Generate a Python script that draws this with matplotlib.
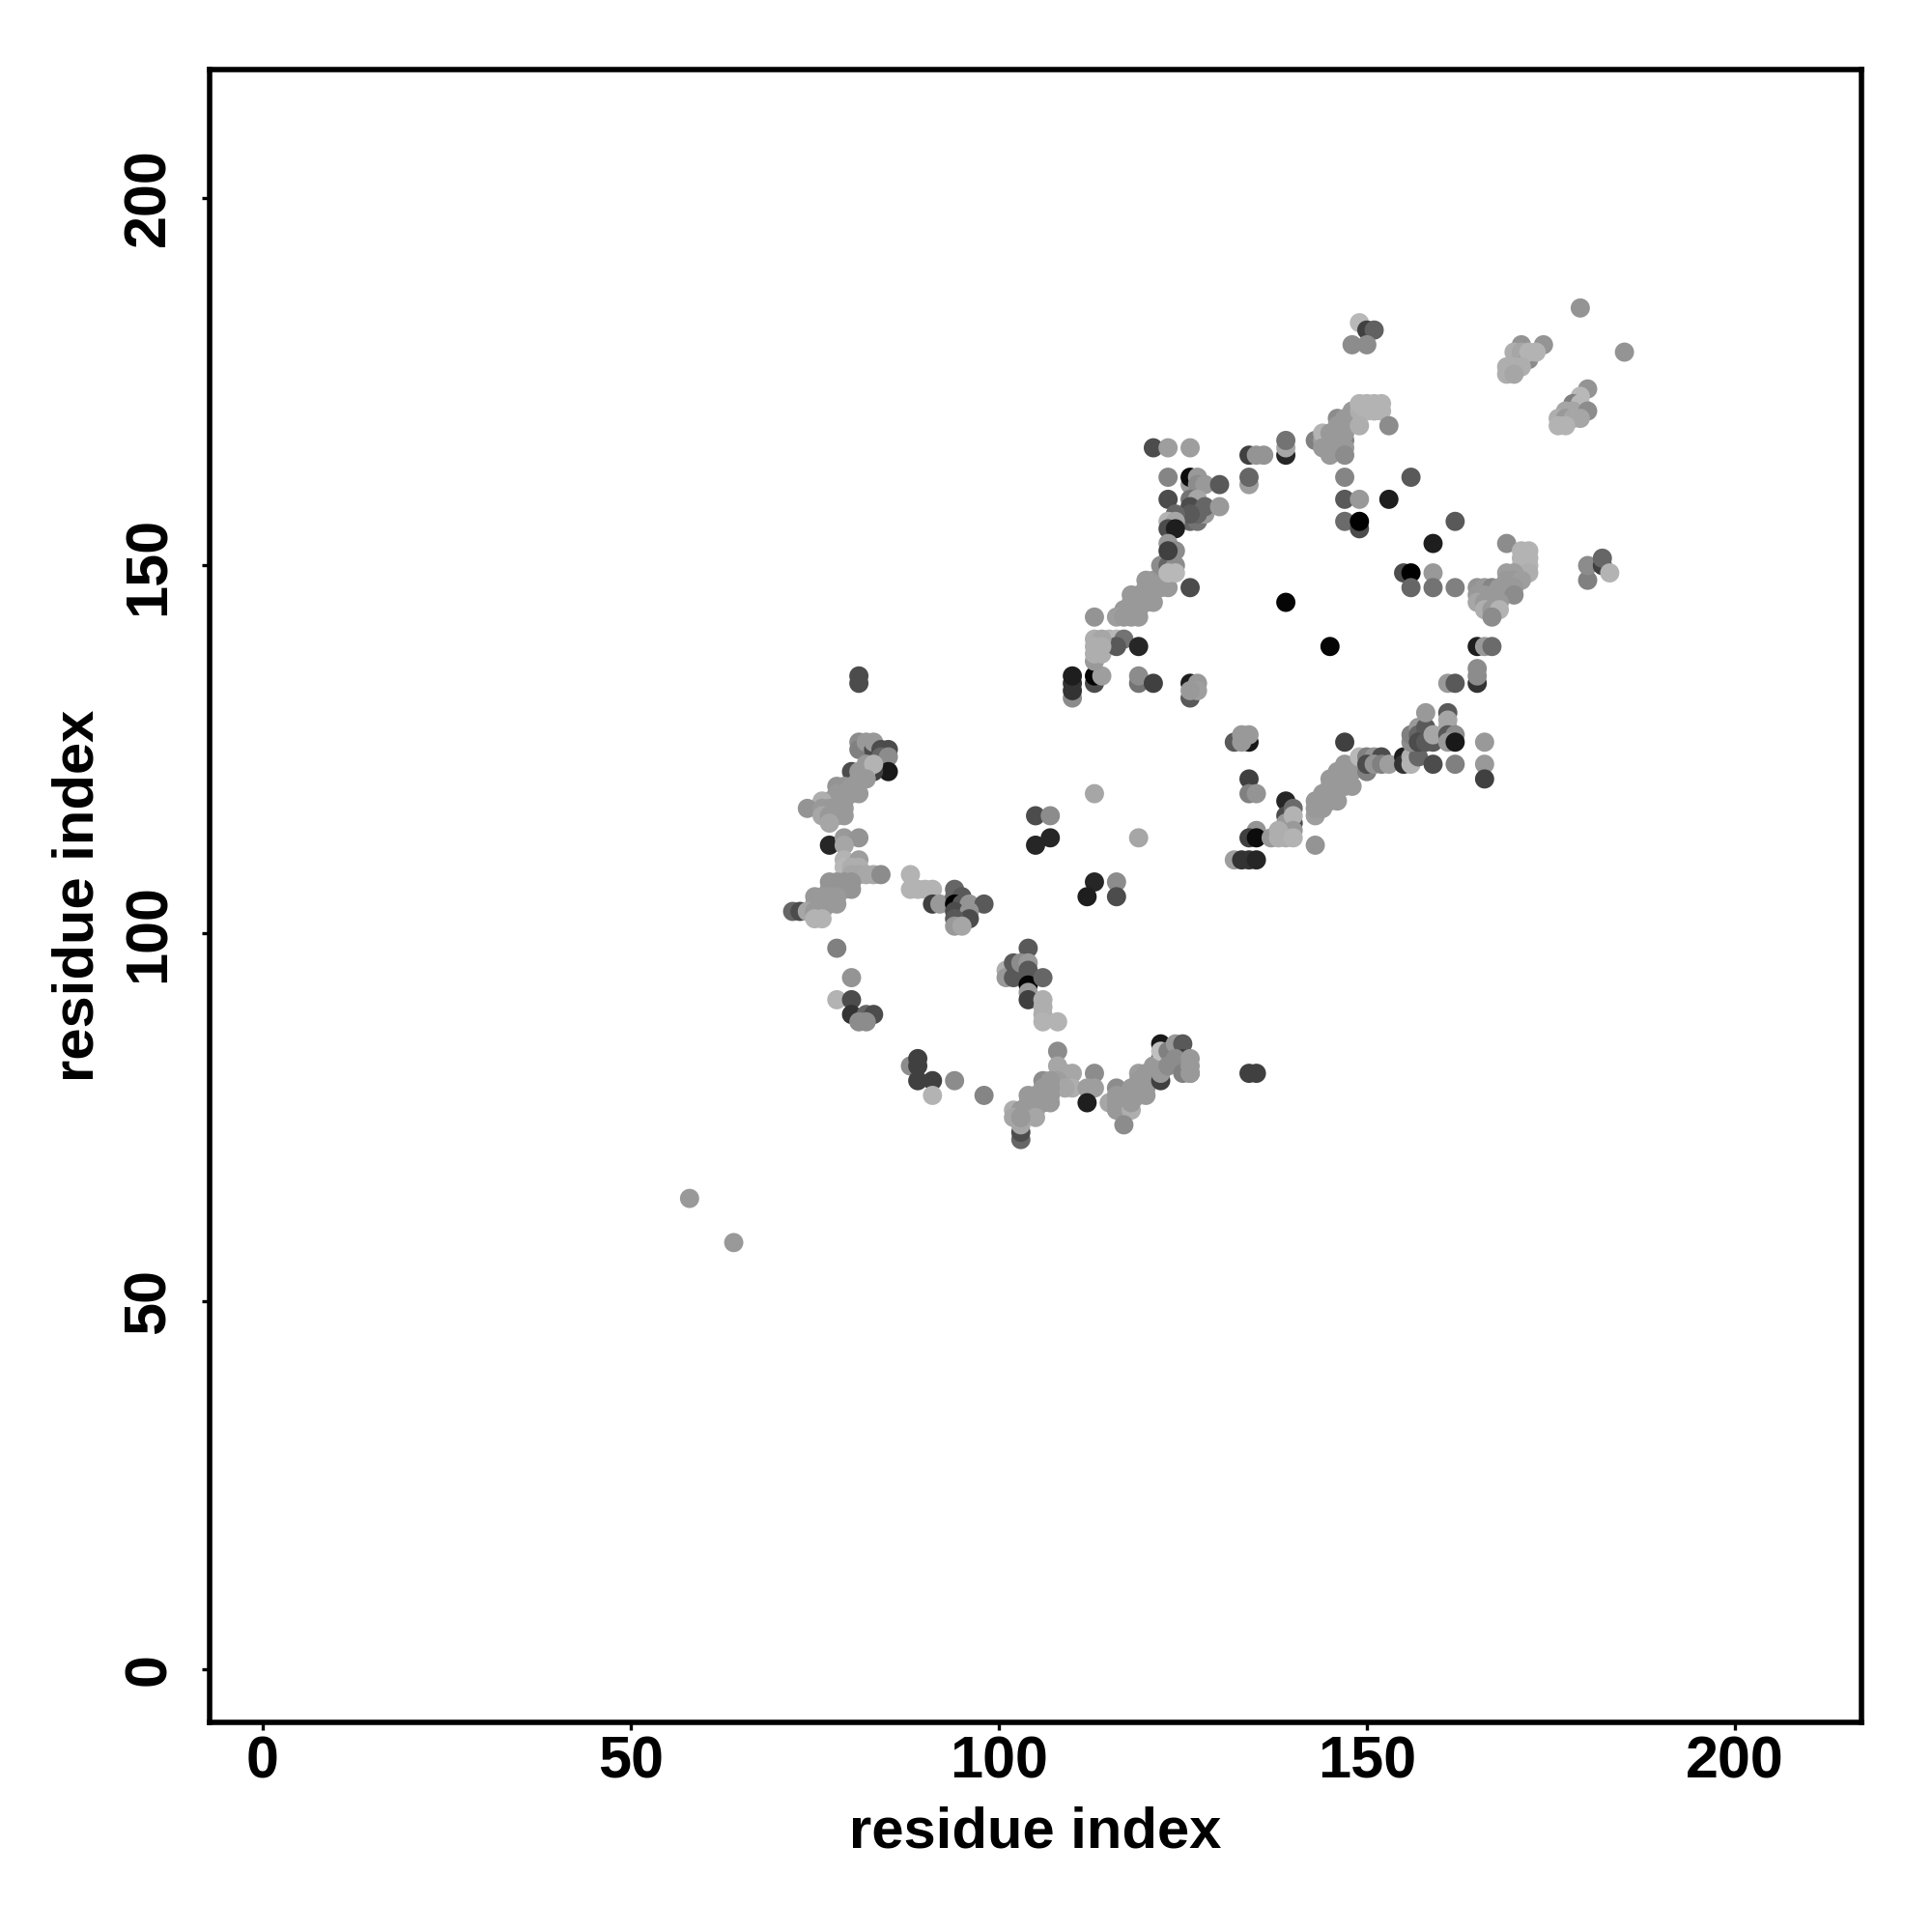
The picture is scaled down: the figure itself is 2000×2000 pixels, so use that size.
import matplotlib
matplotlib.use("Agg")
import matplotlib.pyplot as plt

plt.rcParams["font.family"] = ["Liberation Sans", "DejaVu Sans"]
plt.rcParams["font.weight"] = "bold"

tick_values = [0, 50, 100, 150, 200]

# contacts, one group per cluster: residue i, residue j, grey shade (0 black, 1 white)
far_x = [58, 64]
far_y = [64, 58]
far_g = [.6, .6]

hook_x = [81, 81, 81, 81, 82, 83, 83, 84, 85, 84, 85, 85, 83, 80, 81, 82, 82, 83, 81, 82, 81,
          78, 79, 78, 79, 80, 80, 77, 78, 79, 76, 74, 76, 77, 78, 79, 76, 77, 78, 79, 77,
          77, 79, 81, 79, 79, 81, 79, 80, 81, 80, 81, 82, 83, 84,
          77, 78, 79, 80, 77, 78, 79, 80, 75, 76, 77, 78, 75, 76, 77, 78,
          72, 73, 74, 75, 76, 75, 76]
hook_y = [135, 134, 126, 125, 126, 125, 126, 125, 125, 124, 124, 122, 122, 122, 122, 123, 122, 123, 121, 121, 119,
          120, 120, 119, 119, 120, 119, 118, 118, 118, 118, 117, 117, 117, 117, 117, 116, 116, 116, 116, 115,
          112, 113, 113, 112, 110, 110, 109, 109, 109, 108, 108, 108, 108, 108,
          107, 107, 107, 107, 106, 106, 106, 106, 105, 105, 105, 105, 104, 104, 104, 104,
          103, 103, 103, 103, 103, 102, 102]
hook_g = [.3, .3, .55, .5, .6, .3, .6, .3, .3, .4, .55, .1, .25, .3, .6, .6, .6, .7, .6, .6, .6,
          .58, .58, .6, .6, .6, .6, .6, .6, .6, .68, .58, .6, .6, .6, .6, .65, .6, .6, .6, .65,
          .15, .6, .58, .65, .7, .62, .72, .68, .68, .65, .65, .66, .66, .55,
          .58, .58, .58, .58, .58, .58, .58, .58, .6, .6, .6, .6, .6, .6, .6, .6,
          .4, .3, .65, .6, .6, .7, .7]

mid_x = [88, 88, 89, 90, 91, 91, 92, 94, 94, 95, 94, 95, 96, 98, 94, 96, 96, 94, 94, 95,
         78, 80, 78, 80, 80, 82, 83, 81, 82]
mid_y = [108, 106, 106, 106, 106, 104, 104, 106, 105, 105, 104, 104, 104, 104, 103, 103, 102, 102, 101, 101,
         98, 94, 91, 91, 89, 89, 89, 88, 88]
mid_g = [.7, .7, .7, .7, .7, .25, .6, .4, .4, .35, .0, .35, .58, .35, .3, .58, .3, .35, .6, .65,
         .5, .58, .7, .3, .2, .4, .3, .55, .55]

lone_x = [105, 107, 105, 107, 113, 119, 113, 116, 112, 116]
lone_y = [116, 116, 112, 113, 119, 113, 107, 107, 105, 105]
lone_g = [.3, .55, .15, .15, .65, .65, .15, .55, .12, .3]

stack_x = [104, 101, 101, 102, 102, 103, 104, 104, 104, 104, 106, 104, 104, 106, 106, 106, 106, 108]
stack_y = [98, 95, 94, 96, 94, 96, 96, 95, 94, 93, 94, 92, 91, 91, 90, 89, 88, 88]
stack_g = [.35, .68, .6, .35, .35, .55, .6, .35, .35, .02, .4, .6, .25, .68, .68, .68, .7, .7]

low_x = [88, 89, 89, 89, 91, 91, 94, 98, 103, 103, 103, 108, 108, 109, 110, 108, 110, 109, 113, 112, 113, 112,
         106, 107, 106, 107, 104, 105, 106, 107, 107, 106, 105, 104, 102, 103, 104, 105, 102, 103, 105, 103]
low_y = [82, 83, 82, 80, 80, 78, 80, 78, 72, 73, 74, 84, 82, 81, 81, 80, 79, 79, 81, 79, 79, 77,
         80, 80, 79, 79, 78, 78, 78, 78, 77, 77, 77, 77, 76, 76, 76, 76, 75, 75, 75, 75]
low_g = [.55, .25, .25, .25, .25, .7, .55, .52, .4, .3, .65, .55, .65, .65, .65, .62, .68, .65, .55, .62, .62, .12,
         .55, .6, .6, .6, .6, .6, .6, .6, .6, .6, .6, .6, .68, .6, .6, .6, .65, .6, .65, .6]

low2_x = [116, 115, 116, 116, 116, 117, 117, 118, 117, 118, 118, 118, 119, 120, 119, 120, 119, 120, 119, 120,
          122, 122, 122, 121, 122, 122, 123, 123, 124, 125, 125, 124, 126, 126, 125, 126, 126, 134, 135]
low2_y = [79, 77, 78, 77, 76, 77, 76, 76, 74, 79, 78, 77, 81, 81, 80, 80, 79, 79, 78, 78,
          85, 83, 80, 82, 84, 81, 84, 82, 85, 85, 83, 83, 81, 83, 81, 82, 81, 81, 81]
low2_g = [.55, .65, .6, .6, .6, .6, .6, .68, .55, .6, .6, .6, .62, .6, .6, .6, .6, .6, .6, .6,
          .1, .2, .25, .6, .75, .6, .5, .55, .6, .35, .25, .55, .5, .6, .5, .6, .6, .25, .25]

up_x = [110, 110, 110, 110, 113, 113, 114, 119, 119, 121, 126, 126, 127, 127, 126,
        113, 114, 115, 116, 117, 116, 119, 113, 114, 113, 114, 113,
        120, 121, 122, 123, 122, 121, 120, 118, 119, 120, 121, 120, 119, 118, 117, 118, 119, 116, 117, 118, 119,
        113, 126]
up_y = [132, 133, 134, 135, 134, 135, 135, 134, 135, 134, 132, 134, 134, 133, 133,
        137, 138, 140, 140, 140, 139, 139, 140, 140, 139, 139, 138,
        148, 148, 148, 147, 147, 147, 147, 146, 146, 146, 145, 145, 145, 145, 144, 144, 144, 143, 143, 143, 143,
        143, 147]
up_g = [.55, .2, .2, .12, .3, .02, .62, .45, .55, .25, .35, .12, .6, .62, .6,
        .6, .68, .7, .72, .45, .35, .15, .68, .65, .68, .68, .68,
        .6, .6, .6, .6, .6, .6, .6, .6, .6, .6, .6, .6, .6, .6, .6, .6, .6, .62, .6, .6, .6,
        .58, .3]

ridge_x = [121, 123, 126, 123, 126, 126, 127, 127, 128, 130, 126, 123, 127, 126, 126, 127, 128, 127, 128, 130, 126, 124,
           123, 124, 123, 124, 123, 122, 123, 123, 124, 123, 124, 124, 123, 134, 135, 136, 139, 139, 139, 134, 134]
ridge_y = [166, 166, 166, 162, 161, 162, 162, 161, 161, 161, 159, 159, 159, 158, 156, 156, 157, 157, 158, 158, 157, 157,
           156, 156, 155, 155, 153, 150, 151, 150, 150, 149, 149, 152, 152, 165, 165, 165, 165, 166, 167, 161, 162]
ridge_g = [.3, .62, .62, .52, .6, .05, .6, .55, .6, .35, .45, .3, .65, .3, .4, .45, .6, .4, .4, .6, .35, .4,
           .7, .65, .3, .12, .6, .55, .55, .4, .55, .72, .72, .55, .25, .25, .58, .58, .15, .65, .45, .62, .4]

top_x = [143, 144, 145, 146, 147, 144, 145, 146, 147, 144, 145, 146, 147, 145, 147, 146, 147, 146, 147, 148,
         148, 149, 149, 150, 151, 152, 150, 151, 152, 149, 153, 149, 150, 151, 148, 150]
top_y = [167, 167, 167, 167, 167, 168, 168, 168, 168, 166, 166, 166, 166, 165, 165, 170, 170, 169, 169, 170,
         171, 171, 172, 172, 172, 172, 171, 171, 171, 169, 169, 183, 182, 182, 180, 180]
top_g = [.5, .62, .6, .6, .52, .7, .6, .6, .6, .6, .6, .6, .6, .6, .55, .55, .6, .6, .6, .6,
         .6, .68, .7, .7, .7, .7, .7, .7, .7, .68, .55, .72, .25, .38, .55, .55]

tail_x = [179, 185, 174, 171, 170, 171, 171, 172, 172, 173, 169, 170, 171, 169, 170,
          180, 179, 178, 179, 177, 178, 180, 179, 176, 177, 178, 176, 177]
tail_y = [185, 179, 180, 180, 179, 179, 178, 178, 179, 179, 177, 177, 177, 176, 176,
          174, 173, 172, 172, 171, 171, 171, 170, 170, 170, 170, 169, 169]
tail_g = [.58, .58, .58, .58, .68, .65, .65, .55, .7, .7, .68, .68, .68, .68, .65,
          .58, .72, .5, .72, .65, .65, .55, .65, .68, .6, .65, .7, .7]

mid2_x = [147, 156, 147, 149, 153, 147, 149, 149, 155, 156, 159, 156, 159, 159, 139, 145, 162, 162]
mid2_y = [162, 162, 159, 159, 159, 156, 155, 156, 149, 149, 149, 147, 147, 153, 145, 139, 156, 147]
mid2_g = [.52, .35, .35, .6, .12, .42, .3, .0, .3, .0, .6, .4, .45, .12, .02, .02, .35, .5]

east_x = [169, 171, 172, 171, 172, 171, 172, 171, 172, 169, 170, 169, 170, 171, 165, 166, 167, 168, 169, 170,
          165, 166, 167, 168, 170, 165, 166, 167, 168, 166, 167, 168, 167,
          165, 166, 167, 165, 165, 165, 161, 162, 180, 180, 182, 182, 183]
east_y = [153, 152, 152, 151, 151, 150, 150, 149, 149, 149, 149, 148, 148, 148, 147, 147, 147, 147, 147, 147,
          146, 146, 146, 146, 146, 145, 145, 145, 145, 144, 144, 144, 143,
          139, 139, 139, 134, 135, 136, 134, 134, 148, 150, 150, 151, 149]
east_g = [.55, .7, .7, .7, .7, .7, .7, .7, .68, .62, .62, .6, .6, .62, .58, .6, .52, .6, .6, .6,
          .6, .6, .6, .6, .55, .65, .6, .6, .6, .68, .6, .7, .55,
          .12, .6, .42, .2, .55, .55, .6, .35, .5, .55, .25, .4, .7]

belt_x = [132, 133, 134, 134, 133, 134, 134, 135, 139, 139, 140, 140, 139, 140, 140, 135, 134, 135, 137, 138, 138, 139, 140, 143,
          132, 133, 134, 135,
          143, 143, 143, 144, 145, 144, 145, 146, 145, 146, 147, 145, 146, 147, 148, 146, 147, 148, 147,
          149, 150, 150, 151, 152, 150, 151, 152, 153, 147, 155, 155, 156, 156, 157,
          156, 156, 157, 157, 158, 158, 158, 157, 158, 159, 159, 159,
          161, 161, 161, 161, 162, 161, 162, 162, 166, 166, 166]
belt_y = [126, 127, 126, 127, 126, 121, 119, 119, 118, 116, 117, 115, 115, 116, 114, 114, 113, 113, 113, 114, 113, 113, 113, 112,
          110, 110, 110, 110,
          116, 117, 118, 119, 119, 117, 118, 118, 121, 121, 121, 120, 120, 120, 120, 122, 122, 122, 123,
          124, 124, 122, 124, 124, 123, 123, 123, 123, 126, 124, 123, 124, 123, 124,
          126, 127, 128, 127, 128, 130, 127, 126, 126, 126, 127, 123,
          130, 129, 128, 127, 127, 126, 126, 123, 126, 123, 121]
belt_g = [.35, .6, .1, .6, .6, .25, .5, .58, .15, .3, .42, .3, .6, .7, .6, .58, .25, .05, .6, .68, .68, .68, .7, .58,
          .62, .2, .2, .15,
          .62, .6, .6, .6, .6, .6, .6, .6, .6, .6, .6, .6, .6, .6, .6, .6, .6, .6, .6,
          .72, .5, .5, .58, .3, .3, .58, .5, .62, .25, .12, .2, .68, .7, .4,
          .55, .5, .6, .4, .35, .6, .35, .3, .35, .35, .65, .3,
          .35, .65, .65, .35, .55, .6, .1, .5, .6, .6, .25]

all_x = far_x + hook_x + mid_x + lone_x + stack_x + low_x + low2_x + up_x + ridge_x + top_x + tail_x + mid2_x + east_x + belt_x
all_y = far_y + hook_y + mid_y + lone_y + stack_y + low_y + low2_y + up_y + ridge_y + top_y + tail_y + mid2_y + east_y + belt_y
all_g = far_g + hook_g + mid_g + lone_g + stack_g + low_g + low2_g + up_g + ridge_g + top_g + tail_g + mid2_g + east_g + belt_g

fig = plt.figure(figsize=(20, 20), dpi=100)
ax = fig.add_axes([217 / 2000, 1 - 1783 / 2000, 1710 / 2000, 1711 / 2000])

ax.scatter(all_x, all_y, c=all_g, cmap="gray", vmin=0, vmax=1, s=205, linewidths=0)

ax.set_xlim(-7.2, 217.2)
ax.set_ylim(-7.2, 217.4)
ax.set_xticks(tick_values)
ax.set_yticks(tick_values)
ax.tick_params(axis="x", length=6, width=2.4, labelsize=44, pad=3.5)
ax.tick_params(axis="y", length=6, width=2.4, labelsize=44, pad=18)
for label in ax.get_yticklabels():
    label.set_rotation(90)
    label.set_va("center")
ax.set_xlabel("residue index", fontsize=43, fontweight="bold", labelpad=12)
ax.set_ylabel("residue index", fontsize=43, fontweight="bold", labelpad=13)
for spine in ax.spines.values():
    spine.set_linewidth(4)

fig.savefig("out.png", dpi=100)
